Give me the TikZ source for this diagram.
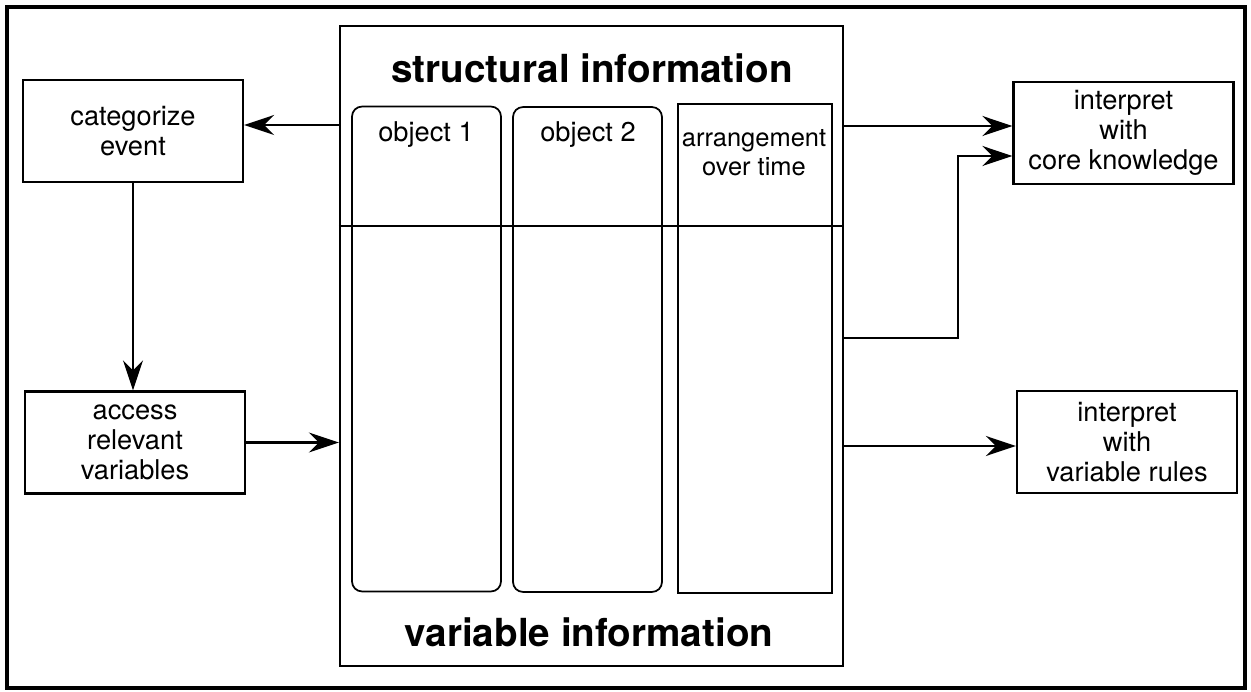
\documentclass[tikz,border=0pt]{standalone}
\usepackage{fontspec}
\setmainfont{TeX Gyre Heros}
\usetikzlibrary{arrows.meta,positioning}

\tikzset{
  procbox/.style={draw, line width=1.3pt, minimum width=4.4cm, minimum height=2.04cm,
    align=center, inner sep=0pt, font=\fontsize{15.5}{17}\selectfont},
  objbox/.style={draw, line width=1pt, minimum width=2.98cm, minimum height=9.7cm, inner sep=0pt},
  flow/.style={line width=1.4pt, -{Stealth[length=0.6cm, width=0.4cm, inset=0.2cm]}},
}

\begin{document}
\begin{tikzpicture}[x=0.02cm, y=-0.02cm]
    \useasboundingbox (0,0) rectangle (1251,692);
    \draw [line width=2.6pt] (7,7) rectangle (1245,688);

    % the middle block with its three columns
    \node [draw, line width=1.4pt, minimum width=10.06cm, minimum height=12.8cm, inner sep=0pt] (info) at (591.5,346) {};
    \draw [line width=1.4pt] (info.west |- 0,226) -- (info.east |- 0,226);
    \node [objbox, rounded corners=0.2cm] (obja) at (426.5,349) {};
    \node [objbox, rounded corners=0.2cm] (objb) at (587.5,349.5) {};
    \node [objbox, minimum width=3.08cm, minimum height=9.78cm] (arrange) at (755,348.5) {};
    \node [font=\fontsize{15.5}{17}\selectfont] at (426,135) {object 1};
    \node [font=\fontsize{15.5}{17}\selectfont] at (588,135) {object 2};
    \node [font=\fontsize{14.5}{16.5}\selectfont, align=center] at (754,153) {arrangement\\over time};
    \node [font=\fontsize{22}{24}\bfseries] at (592,68) {structural information};
    \node [font=\fontsize{22}{24}\bfseries] at (589,632) {variable information};

    % boxes on both sides
    \node [procbox] (catev) at (133,131) {categorize\\event};
    \node [procbox] (access) at (135,442.5) {access\\relevant\\variables};
    \node [procbox] (core) at (1123.5,133) {interpret\\with\\core knowledge};
    \node [procbox] (varrule) at (1127,442) {interpret\\with\\variable rules};

    \draw [flow] (info.west |- 0,125) -- (catev.east |- 0,125);
    \draw [flow] (catev.south) -- (catev.south |- access.north);
    \draw [flow] (access.east) -- (info.west |- access.east);
    \draw [flow] (info.east |- 0,126) -- (core.west |- 0,126);
    \draw [flow] (info.east |- 0,338) -| (958,156) -- (core.west |- 0,156);
    \draw [flow] (info.east |- 0,446) -- (varrule.west |- 0,446);
\end{tikzpicture}
\end{document}
